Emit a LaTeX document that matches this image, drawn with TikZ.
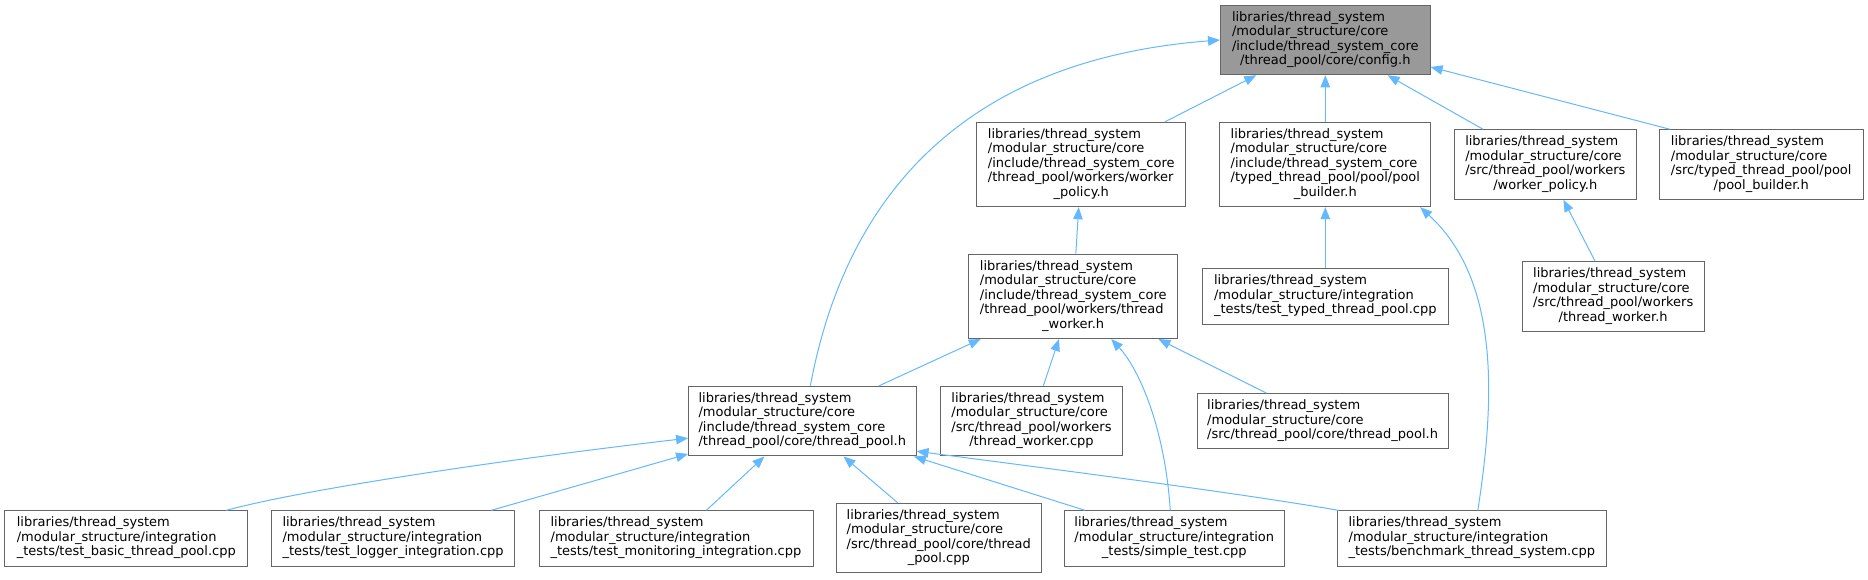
\documentclass[tikz,border=0pt]{standalone}
\usepackage{fontspec}
\setmainfont{DejaVu Sans}
\usepackage{tikz}
\usetikzlibrary{arrows.meta,calc}
\definecolor{edgeblue}{HTML}{63B8FF}
\definecolor{boxgray}{HTML}{666666}
\definecolor{rootgray}{HTML}{999999}
\newcommand{\flines}[2]{\begin{tabular}{@{}l@{}}#1\\\multicolumn{1}{@{}c@{}}{#2}\end{tabular}}

\begin{document}
\begin{tikzpicture}[x=1pt,y=-1pt,
    fnode/.style={draw=boxgray,fill=white,line width=1pt,inner sep=0pt,font=\fontsize{13}{14.5}\selectfont},
    l3/.style={fnode,minimum height=55.3pt},
    l4/.style={fnode,minimum height=69.5pt},
    l5/.style={fnode,minimum height=84.4pt},
    edge/.style={draw=edgeblue,line width=1pt,-{Triangle[length=12pt,width=9.5pt]}}]
  \useasboundingbox (0,0) rectangle (1868,579);
  \node[l4,fill=rootgray,minimum width=209.6pt] (cfg) at (1325.3,40) {\flines{libraries/thread\_system\\/modular\_structure/core\\/include/thread\_system\_core}{/thread\_pool/core/config.h}};
  \node[l5,minimum width=209.3pt] (wpolicy) at (1081.3,164.5) {\flines{libraries/thread\_system\\/modular\_structure/core\\/include/thread\_system\_core\\/thread\_pool/workers/worker}{\_policy.h}};
  \node[l5,minimum width=210.7pt] (pbuilder) at (1325.3,164.5) {\flines{libraries/thread\_system\\/modular\_structure/core\\/include/thread\_system\_core\\/typed\_thread\_pool/pool/pool}{\_builder.h}};
  \node[l4,minimum width=181.5pt] (srcwpolicy) at (1545.3,164.5) {\flines{libraries/thread\_system\\/modular\_structure/core\\/src/thread\_pool/workers}{/worker\_policy.h}};
  \node[l4,minimum width=203.6pt] (srcpbuilder) at (1761.2,164.5) {\flines{libraries/thread\_system\\/modular\_structure/core\\/src/typed\_thread\_pool/pool}{/pool\_builder.h}};
  \node[l5,minimum width=209.5pt] (tworker) at (1073.2,296.3) {\flines{libraries/thread\_system\\/modular\_structure/core\\/include/thread\_system\_core\\/thread\_pool/workers/thread}{\_worker.h}};
  \node[l3,minimum width=245.4pt] (typedtest) at (1325.3,296.5) {\flines{libraries/thread\_system\\/modular\_structure/integration}{\_tests/test\_typed\_thread\_pool.cpp}};
  \node[l4,minimum width=181.6pt] (srctworker) at (1613.2,296.5) {\flines{libraries/thread\_system\\/modular\_structure/core\\/src/thread\_pool/workers}{/thread\_worker.h}};
  \node[l4,minimum width=227.5pt] (tpool) at (802.3,421.2) {\flines{libraries/thread\_system\\/modular\_structure/core\\/include/thread\_system\_core}{/thread\_pool/core/thread\_pool.h}};
  \node[l4,minimum width=181.5pt] (tworkercpp) at (1031.5,421.2) {\flines{libraries/thread\_system\\/modular\_structure/core\\/src/thread\_pool/workers}{/thread\_worker.cpp}};
  \node[l3,minimum width=250.8pt] (srctpool) at (1322.6,421.3) {\flines{libraries/thread\_system\\/modular\_structure/core}{/src/thread\_pool/core/thread\_pool.h}};
  \node[l3,minimum width=243pt] (basictest) at (126.3,538.5) {\flines{libraries/thread\_system\\/modular\_structure/integration}{\_tests/test\_basic\_thread\_pool.cpp}};
  \node[l3,minimum width=243pt] (loggertest) at (393.1,538.5) {\flines{libraries/thread\_system\\/modular\_structure/integration}{\_tests/test\_logger\_integration.cpp}};
  \node[l3,minimum width=274pt] (monitortest) at (676,538.5) {\flines{libraries/thread\_system\\/modular\_structure/integration}{\_tests/test\_monitoring\_integration.cpp}};
  \node[l4,minimum width=204.5pt] (tpoolcpp) at (938.8,538) {\flines{libraries/thread\_system\\/modular\_structure/core\\/src/thread\_pool/core/thread}{\_pool.cpp}};
  \node[l3,minimum width=219.8pt] (simpletest) at (1174.3,538.5) {\flines{libraries/thread\_system\\/modular\_structure/integration}{\_tests/simple\_test.cpp}};
  \node[l3,minimum width=269pt] (benchtest) at (1471.8,538.5) {\flines{libraries/thread\_system\\/modular\_structure/integration}{\_tests/benchmark\_thread\_system.cpp}};
  \draw[edge] ([xshift=8pt]tpool.north) .. controls (845,200) and (960,60) .. (cfg.west);
  \draw[edge] (wpolicy) -- (cfg);
  \draw[edge] (pbuilder) -- (cfg);
  \draw[edge] (srcwpolicy) -- (cfg);
  \draw[edge] ([xshift=11pt]srcpbuilder.north west) -- ([yshift=-27pt]cfg.east);
  \draw[edge] (tworker) -- (wpolicy);
  \draw[edge] (typedtest) -- (pbuilder);
  \draw[edge] ([xshift=6pt]benchtest.north) .. controls (1495,400) and (1500,280) .. ([xshift=-11pt]pbuilder.south east);
  \draw[edge] (srctworker) -- (srcwpolicy);
  \draw[edge] (tpool) -- (tworker);
  \draw[edge] (tworkercpp) -- (tworker);
  \draw[edge] ([xshift=-4pt]simpletest.north) .. controls (1165,430) and (1140,370) .. ([xshift=38pt]tworker.south);
  \draw[edge] (srctpool) -- (tworker);
  \draw[edge] ([xshift=100pt]basictest.north) .. controls (300,490) and (500,460) .. ([yshift=-17pt]tpool.west);
  \draw[edge] (loggertest) -- (tpool);
  \draw[edge] (monitortest) -- (tpool);
  \draw[edge] (tpoolcpp) -- (tpool);
  \draw[edge] (simpletest) -- (tpool);
  \draw[edge] ([xshift=-133pt]benchtest.north) .. controls (1220,490) and (1020,465) .. ([yshift=-30pt]tpool.east);
\end{tikzpicture}
\end{document}
